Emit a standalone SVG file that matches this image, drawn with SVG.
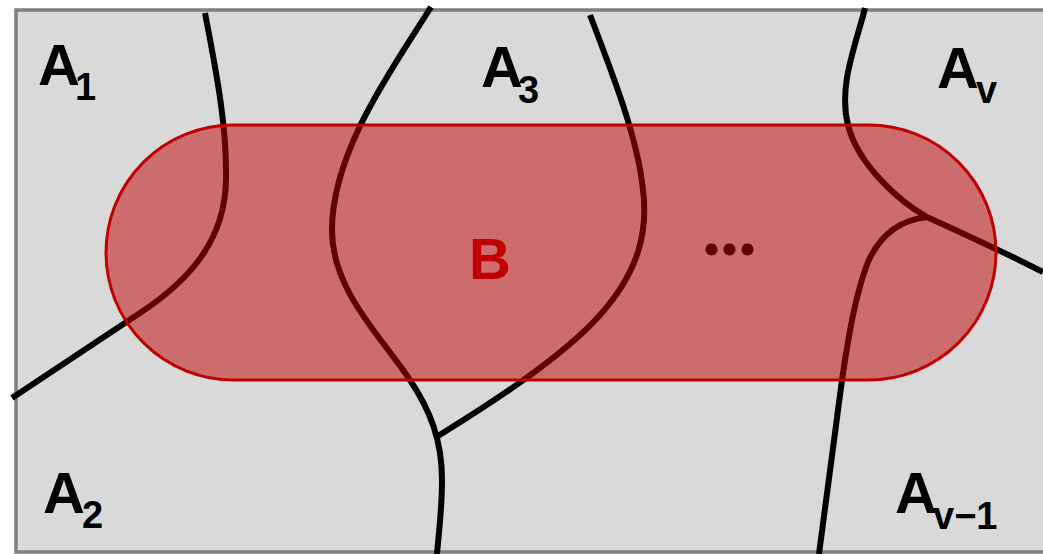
<svg xmlns="http://www.w3.org/2000/svg" width="1043" height="554" viewBox="0 0 1043 554">
  <style>
    .edge { fill: none; stroke: #000000; stroke-width: 6; stroke-linecap: butt; stroke-linejoin: round; }
    .lbl { font-family: "Liberation Sans", Arial, sans-serif; font-weight: bold; fill: #000000; }
    .big { font-size: 58px; }
    .sub { font-size: 38px; }
  </style>
  <rect x="0" y="0" width="1043" height="554" fill="#ffffff"/>
  <g id="frame">
    <rect x="16" y="10" width="1032" height="542" fill="#d9d9d9" stroke="#7f7f7f" stroke-width="3.5"/>
  </g>
  <g id="dots">
    <text x="702" y="255" font-family="Lato, 'Open Sans', sans-serif" font-weight="bold" font-size="80" letter-spacing="-1" fill="#000000">...</text>
  </g>
  <g id="connectors">
    <path class="edge" d="M205,13 C218,80 227,130 226,180 C225,240 190,280 140,313 L12,398"/>
    <path class="edge" d="M431,7 C395,65 332,150 332,230 C332,290 380,335 410,380 C430,410 442,440 442,480 C442,510 439,530 437,554"/>
    <path class="edge" d="M438,436 C480,410 560,360 600,315 C640,270 648,230 643,190 C638,140 615,80 590,15"/>
    <path class="edge" d="M865,8 C856,45 838,85 848,125 C858,165 900,202 927,217 C960,232 1000,250 1043,272"/>
    <path class="edge" d="M927,217 C900,220 880,235 868,262 C855,295 848,340 842,380 L819,554"/>
  </g>
  <g id="node-B">
    <rect x="106" y="125" width="890" height="255" rx="127.5" ry="127.5" fill="#c00000" fill-opacity="0.5" stroke="#c00000" stroke-width="3"/>
    <text class="lbl big" x="469" y="279" style="fill:#c00000">B</text>
  </g>
  <g id="node-A1">
    <text class="lbl"><tspan class="big" x="38" y="85">A</tspan><tspan class="sub" x="75" y="100">1</tspan></text>
  </g>
  <g id="node-A2">
    <text class="lbl"><tspan class="big" x="43" y="513">A</tspan><tspan class="sub" x="82" y="528">2</tspan></text>
  </g>
  <g id="node-A3">
    <text class="lbl"><tspan class="big" x="481" y="87">A</tspan><tspan class="sub" x="518" y="103">3</tspan></text>
  </g>
  <g id="node-Av">
    <text class="lbl"><tspan class="big" x="937" y="88">A</tspan><tspan class="sub" x="976" y="103">v</tspan></text>
  </g>
  <g id="node-Av-1">
    <text class="lbl"><tspan class="big" x="895" y="513">A</tspan><tspan class="sub" x="933" y="529">v−1</tspan></text>
  </g>
</svg>
